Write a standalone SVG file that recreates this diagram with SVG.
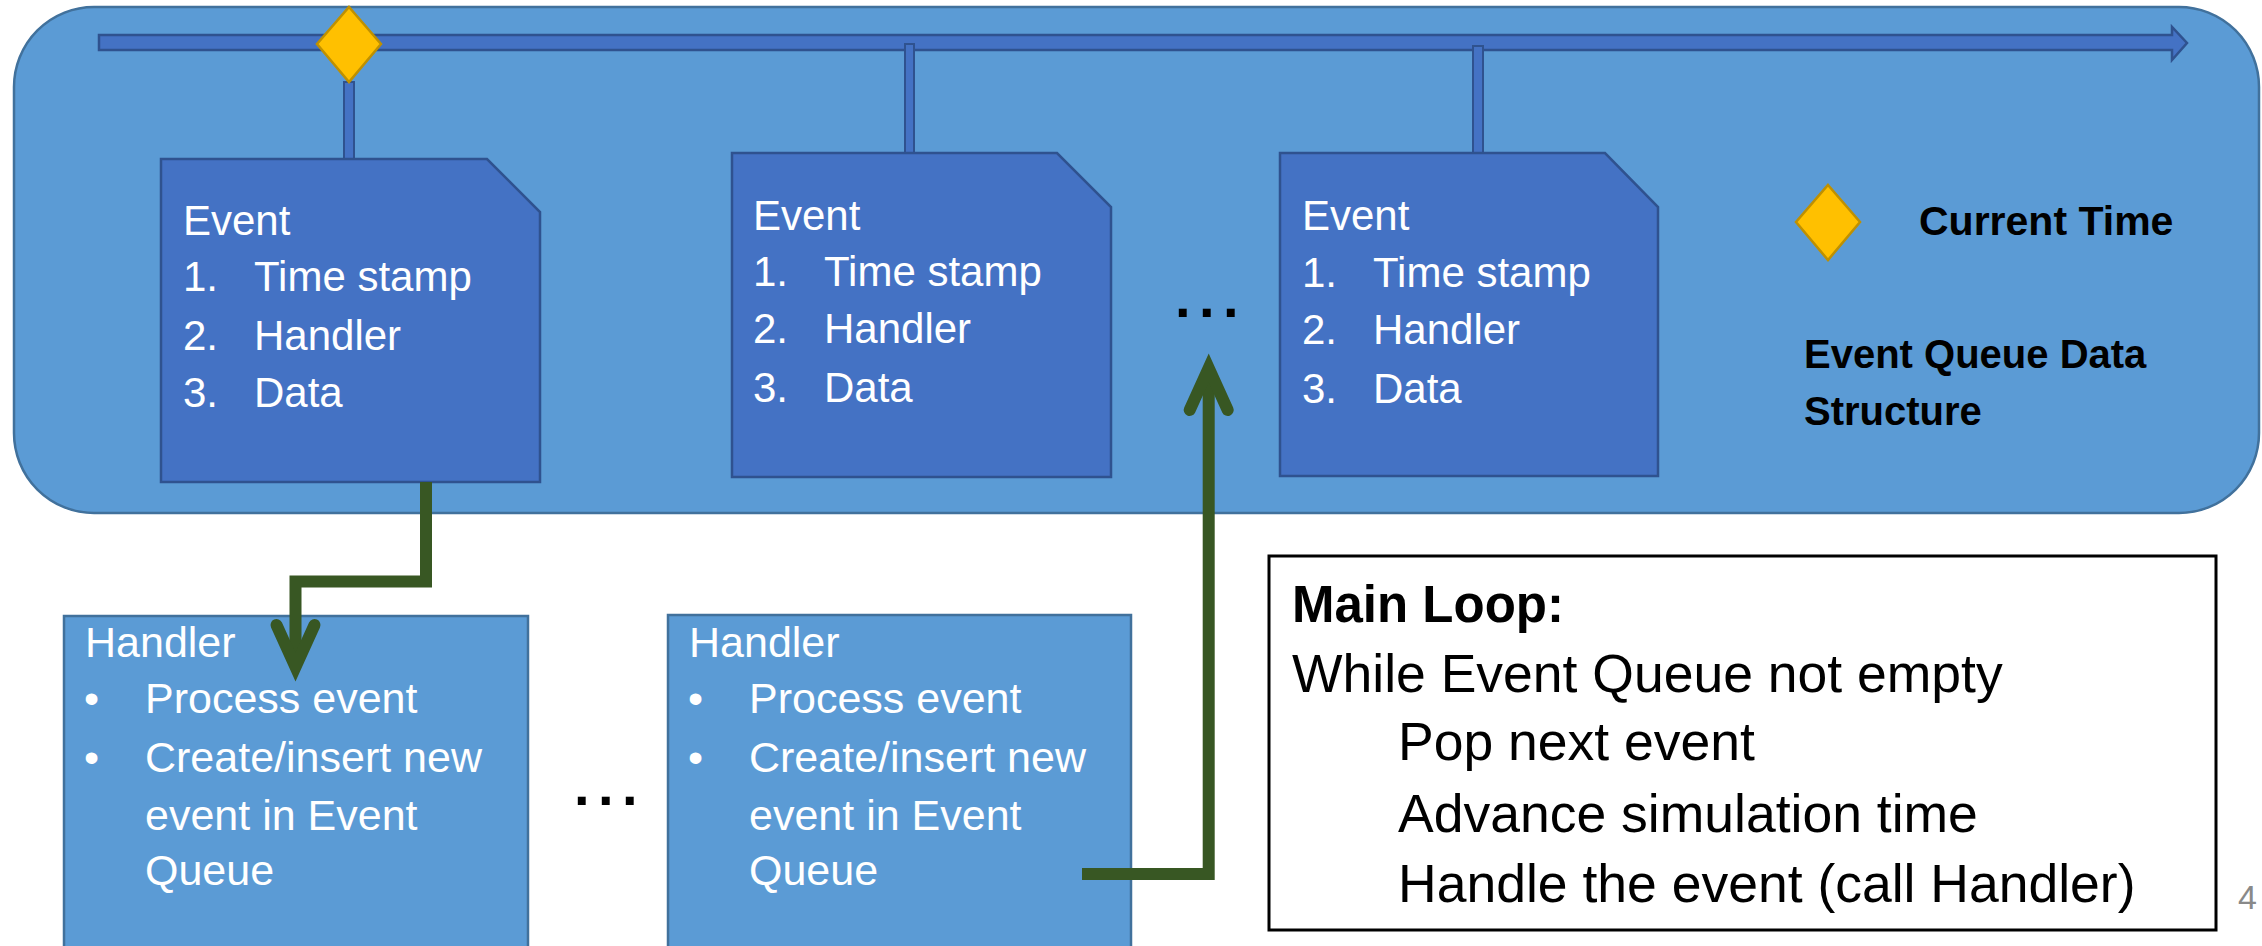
<svg xmlns="http://www.w3.org/2000/svg" width="2262" height="946" viewBox="0 0 2262 946">
<defs>
<style>
.outer{fill:#5B9BD5;stroke:#41719C;stroke-width:2.5}
.ev{fill:#4472C4;stroke:#2F528F;stroke-width:2.5}
.stem{fill:#4472C4;stroke:#2F528F;stroke-width:2}
.dia{fill:#FFC000;stroke:#BF9000;stroke-width:2.5}
.hd{fill:#5B9BD5;stroke:#41719C;stroke-width:2.5}
.t{font-family:'Liberation Sans',Arial,sans-serif;fill:#FFFFFF}
.et{font-size:42px}
.ht{font-size:43px}
.b{font-family:'Liberation Sans',Arial,sans-serif;font-weight:bold;fill:#000000}
.m{font-family:'Liberation Sans',Arial,sans-serif;fill:#000000;font-size:53.5px}
.dots{font-family:'Liberation Sans',Arial,sans-serif;font-weight:bold;font-size:56px;fill:#000000;letter-spacing:8.4px}
.conn{fill:none;stroke:#385723;stroke-width:12;stroke-linejoin:miter;stroke-linecap:butt}
</style>
<marker id="openArrow" markerUnits="userSpaceOnUse" markerWidth="80" markerHeight="80" viewBox="-60 -40 80 80" refX="0" refY="0" orient="auto" overflow="visible">
<path d="M-42,-19 L0,0 L-42,19" fill="none" stroke="#385723" stroke-width="12" stroke-linecap="round" stroke-linejoin="miter"/>
</marker>
</defs>

<g id="event-queue">
<rect class="outer" x="14" y="7" width="2245" height="506" rx="80" ry="80"/>
<polygon id="timeline" class="ev" points="99,35 2172,35 2172,27 2187,43 2172,60 2172,50 99,50"/>
<rect class="stem" x="344" y="82" width="10" height="77"/>
<rect class="stem" x="905" y="44" width="9" height="109"/>
<rect class="stem" x="1473" y="46" width="10" height="107"/>
<polygon id="current-time-marker" class="dia" points="349,7 381,44 349,82 317,44"/>
</g>

<g id="event1">
<polygon class="ev" points="161,159 487,159 540,212 540,482 161,482"/>
<text class="t et" x="183" y="235">Event</text>
<text class="t et" x="183" y="291">1.</text><text class="t et" x="254" y="291">Time stamp</text>
<text class="t et" x="183" y="350">2.</text><text class="t et" x="254" y="350">Handler</text>
<text class="t et" x="183" y="407">3.</text><text class="t et" x="254" y="407">Data</text>
</g>

<g id="event2">
<polygon class="ev" points="732,153 1057,153 1111,207 1111,477 732,477"/>
<text class="t et" x="753" y="230">Event</text>
<text class="t et" x="753" y="286">1.</text><text class="t et" x="824" y="286">Time stamp</text>
<text class="t et" x="753" y="343">2.</text><text class="t et" x="824" y="343">Handler</text>
<text class="t et" x="753" y="402">3.</text><text class="t et" x="824" y="402">Data</text>
</g>

<g id="event-ellipsis">
<text class="dots" x="1175" y="317">...</text>
</g>

<g id="event3">
<polygon class="ev" points="1280,153 1605,153 1658,207 1658,476 1280,476"/>
<text class="t et" x="1302" y="230">Event</text>
<text class="t et" x="1302" y="287">1.</text><text class="t et" x="1373" y="287">Time stamp</text>
<text class="t et" x="1302" y="344">2.</text><text class="t et" x="1373" y="344">Handler</text>
<text class="t et" x="1302" y="403">3.</text><text class="t et" x="1373" y="403">Data</text>
</g>

<g id="legend">
<polygon class="dia" points="1828,185 1860,222 1828,260 1796,222"/>
<text class="b" x="1919" y="235" font-size="41">Current Time</text>
<text class="b" x="1804" y="368" font-size="40">Event Queue Data</text>
<text class="b" x="1804" y="425" font-size="40">Structure</text>
</g>

<g id="handler1">
<rect class="hd" x="64" y="616" width="464" height="360"/>
<text class="t ht" x="85" y="657">Handler</text>
<text class="t ht" x="84" y="713">•</text><text class="t ht" x="145" y="713">Process event</text>
<text class="t ht" x="84" y="772">•</text><text class="t ht" x="145" y="772">Create/insert new</text>
<text class="t ht" x="145" y="830">event in Event</text>
<text class="t ht" x="145" y="885">Queue</text>
</g>

<g id="handler-ellipsis">
<text class="dots" x="574" y="805">...</text>
</g>

<g id="handler2">
<rect class="hd" x="668" y="615" width="463" height="360"/>
<text class="t ht" x="689" y="657">Handler</text>
<text class="t ht" x="688" y="713">•</text><text class="t ht" x="749" y="713">Process event</text>
<text class="t ht" x="688" y="772">•</text><text class="t ht" x="749" y="772">Create/insert new</text>
<text class="t ht" x="749" y="830">event in Event</text>
<text class="t ht" x="749" y="885">Queue</text>
</g>

<g id="main-loop">
<rect x="1269" y="556" width="947" height="374" fill="#FFFFFF" stroke="#000000" stroke-width="3"/>
<text class="b" x="1292" y="622" font-size="51">Main Loop:</text>
<text class="m" x="1292" y="692">While Event Queue not empty</text>
<text class="m" x="1398" y="760">Pop next event</text>
<text class="m" x="1398" y="832">Advance simulation time</text>
<text class="m" x="1398" y="902">Handle the event (call Handler)</text>
</g>

<g id="page-number">
<text x="2238" y="909" font-family="'Liberation Sans',Arial,sans-serif" font-size="34" fill="#898989">4</text>
</g>

<g id="connectors">
<path class="conn" d="M426,482 V581.5 H295.5 V667" marker-end="url(#openArrow)"/>
<path class="conn" d="M1082,874 H1208.7 V368" marker-end="url(#openArrow)"/>
</g>
</svg>
